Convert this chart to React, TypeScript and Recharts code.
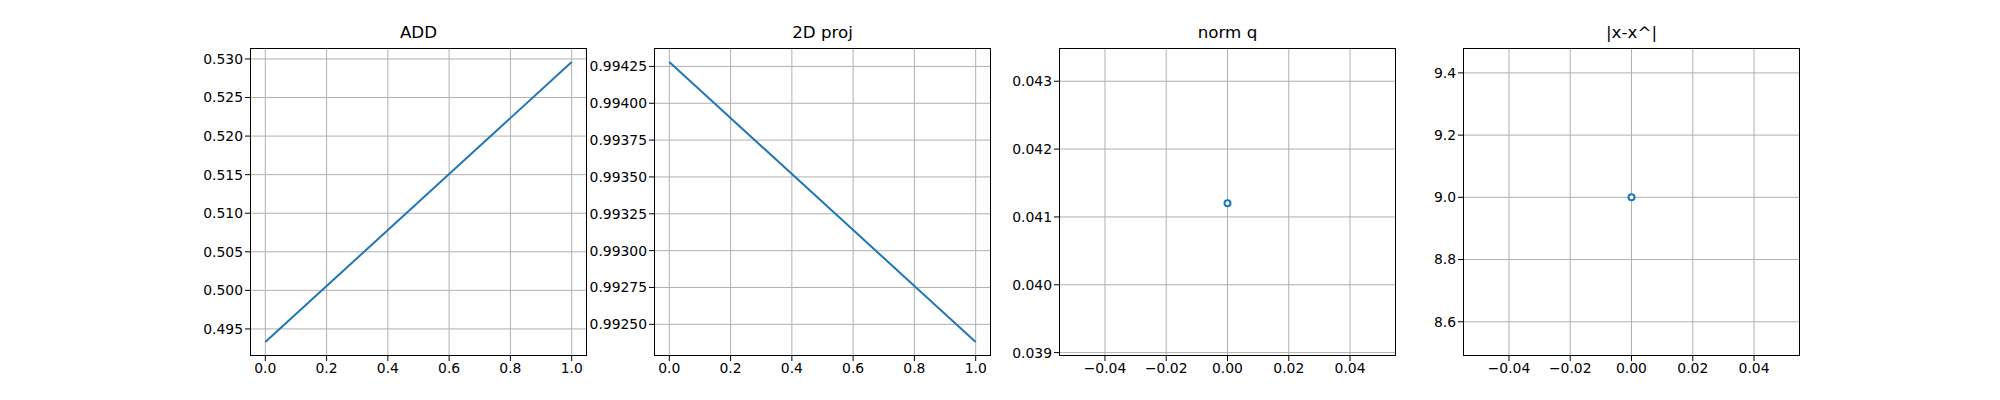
import { CartesianGrid, Line, LineChart, XAxis, YAxis } from "recharts"

const stepX = [0, 1]
const addValues = [0.4933, 0.5296]
const projValues = [0.99428, 0.99238]
const normQValues = [0.0412]
const errValues = [9.0]

const unitTicks = [0, 0.2, 0.4, 0.6, 0.8, 1.0]
const smallTicks = [-0.04, -0.02, 0, 0.02, 0.04]
const addTicks = [0.495, 0.5, 0.505, 0.51, 0.515, 0.52, 0.525, 0.53]
const projTicks = [0.9925, 0.99275, 0.993, 0.99325, 0.9935, 0.99375, 0.994, 0.99425]
const normQTicks = [0.039, 0.04, 0.041, 0.042, 0.043]
const errTicks = [8.6, 8.8, 9.0, 9.2, 9.4]

const fmt = (d: number) => (v: number) => v.toFixed(d).replace("-", "\u2212")

interface Panel {
  title: string
  xs: number[]
  ys: number[]
  xTicks: number[]
  yTicks: number[]
  xDomain: [number, number]
  yDomain: [number, number]
  xDec: number
  yDec: number
  left: number
}

const panels: Panel[] = [
  { title: "ADD", xs: stepX, ys: addValues, xTicks: unitTicks, yTicks: addTicks, xDomain: [-0.05, 1.05], yDomain: [0.49149, 0.53142], xDec: 1, yDec: 3, left: 250 },
  { title: "2D proj", xs: stepX, ys: projValues, xTicks: unitTicks, yTicks: projTicks, xDomain: [-0.05, 1.05], yDomain: [0.992285, 0.994375], xDec: 1, yDec: 5, left: 654 },
  { title: "norm q", xs: [0], ys: normQValues, xTicks: smallTicks, yTicks: normQTicks, xDomain: [-0.055, 0.055], yDomain: [0.03895, 0.04349], xDec: 2, yDec: 3, left: 1059 },
  { title: "|x-x^|", xs: [0], ys: errValues, xTicks: smallTicks, yTicks: errTicks, xDomain: [-0.055, 0.055], yDomain: [8.49, 9.48], xDec: 2, yDec: 1, left: 1463 },
]

const AX_W = 337
const TOP = 48
const BOTTOM = 356
const PAD = 90
const font = "DejaVu Sans, sans-serif"
const tickStyle = { fill: "#000", fontSize: 13.9, fontFamily: font }

const PanelChart = ({ p }: { p: Panel }) => {
  const data = p.xs.map((x, i) => ({ x, y: p.ys[i] }))
  return (
    <>
      <div style={{ position: "absolute", left: p.left - PAD, top: 0 }}>
        <LineChart width={AX_W + PAD + 10} height={400} data={data}
          margin={{ top: TOP, left: PAD - 80, right: 10, bottom: 400 - BOTTOM - 30 }}>
          <CartesianGrid stroke="#b0b0b0" strokeWidth={1} horizontalValues={p.yTicks} verticalValues={p.xTicks} />
          <XAxis dataKey="x" type="number" domain={p.xDomain} ticks={p.xTicks} allowDataOverflow
            tickFormatter={fmt(p.xDec)} height={30} axisLine={false} tickSize={5}
            tickLine={{ stroke: "#000" }} tick={tickStyle} interval={0} />
          <YAxis type="number" domain={p.yDomain} ticks={p.yTicks} allowDataOverflow
            tickFormatter={fmt(p.yDec)} width={80} axisLine={false} tickSize={5}
            tickLine={{ stroke: "#000" }} tick={tickStyle} interval={0} />
          <Line dataKey="y" stroke="#1f77b4" strokeWidth={2} dot={false} isAnimationActive={false} />
        </LineChart>
      </div>
      <div style={{ position: "absolute", left: p.left, top: TOP, width: AX_W - 2, height: BOTTOM - TOP - 2, border: "1px solid #000", pointerEvents: "none" }} />
      <div style={{ position: "absolute", left: p.left, width: AX_W, top: 22, textAlign: "center", fontFamily: font, fontSize: 16.7 }}>
        {p.title}
      </div>
    </>
  )
}

const App = () => {
  return (
    <div style={{ position: "absolute", left: 0, top: 0, width: 2000, height: 400, background: "#fff" }}>
      {panels.map(p => <PanelChart key={p.title} p={p} />)}
    </div>
  )
}
export default App
